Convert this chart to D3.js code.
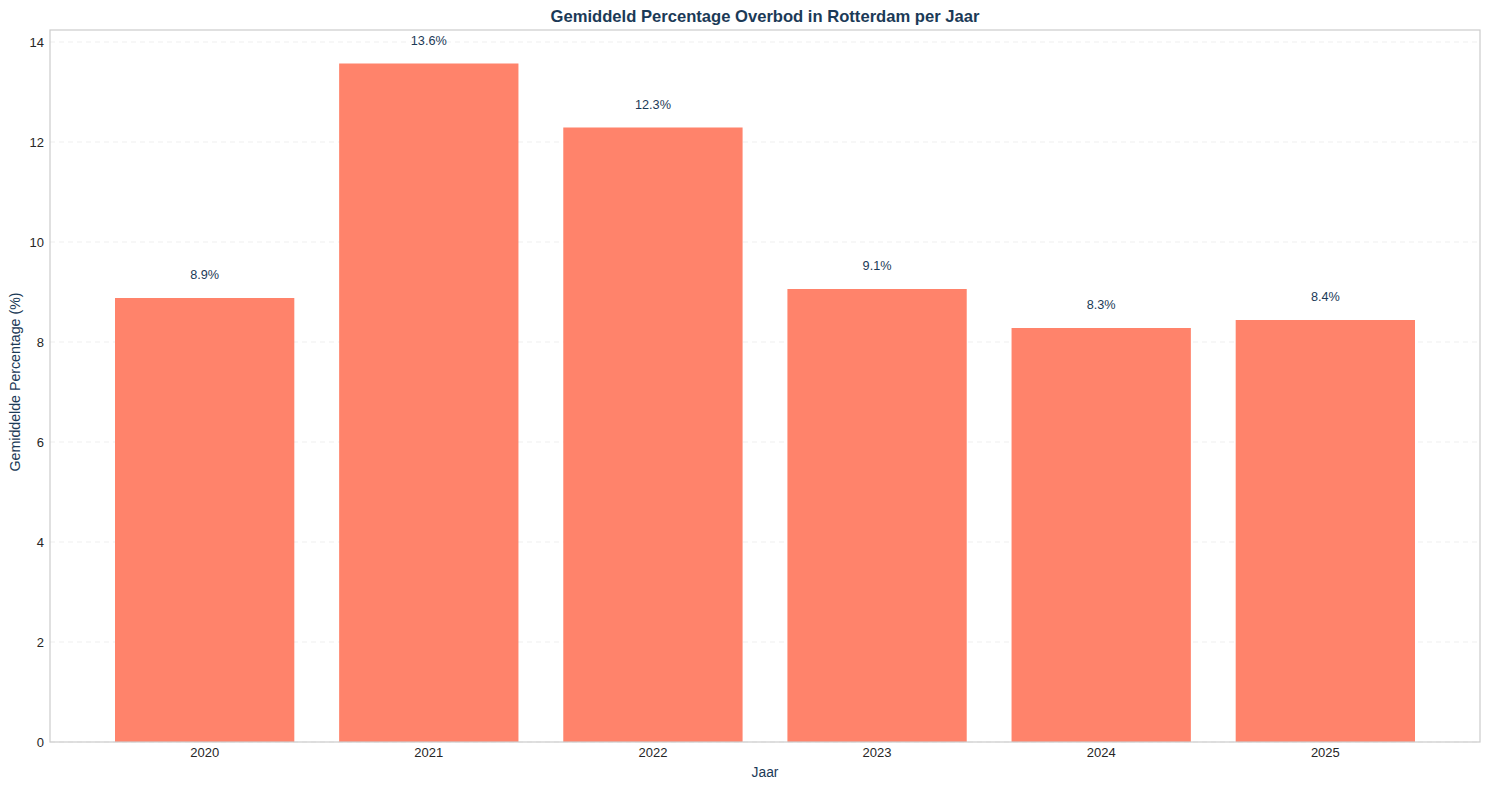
<!DOCTYPE html>
<html><head><meta charset="utf-8">
<script src="https://cdn.jsdelivr.net/npm/d3@7"></script>
<style>body{margin:0;background:#fff;}svg{font-family:"Liberation Sans",Arial,sans-serif;}</style>
</head><body><svg id="c" width="1489" height="790"></svg>
<script>
const years = ["2020","2021","2022","2023","2024","2025"];
const values = [8.88, 13.57, 12.29, 9.06, 8.28, 8.44];
const yTicks = [0,2,4,6,8,10,12,14];

const svg = d3.select("#c");
const L = 50, R = 1480, T = 30, B = 742;
const x = d3.scaleLinear().domain([-0.69, 5.69]).range([L, R]);
const y = d3.scaleLinear().domain([0, 14.24]).range([B, T]);
const bw = x(0.4) - x(-0.4);
const navy = "#1b3a57";

// grid
svg.append("g").selectAll("line").data(yTicks).join("line")
  .attr("x1", L).attr("x2", R).attr("y1", d => y(d)).attr("y2", d => y(d))
  .attr("stroke", "#ebebeb").attr("stroke-dasharray", "5,4").attr("stroke-width", 0.8);

// bars
svg.append("g").selectAll("rect").data(values).join("rect")
  .attr("x", (d, i) => x(i) - bw / 2).attr("width", bw)
  .attr("y", d => y(d)).attr("height", d => y(0) - y(d))
  .attr("fill", "#ff7f66").attr("fill-opacity", 0.97);

// value labels
svg.append("g").selectAll("text").data(values).join("text")
  .attr("x", (d, i) => x(i)).attr("y", d => y(d + 0.3) - 4)
  .attr("text-anchor", "middle").attr("font-size", 12.7).attr("fill", navy)
  .text(d => d.toFixed(1) + "%");

// frame
svg.append("rect").attr("x", L).attr("y", T).attr("width", R - L).attr("height", B - T)
  .attr("fill", "none").attr("stroke", "#cccccc").attr("stroke-width", 1.2);

// y ticks
svg.append("g").selectAll("text").data(yTicks).join("text")
  .attr("x", L - 6).attr("y", d => y(d)).attr("dy", "0.35em")
  .attr("text-anchor", "end").attr("font-size", 13).attr("fill", "#262626")
  .text(d => d);

// x ticks
svg.append("g").selectAll("text").data(years).join("text")
  .attr("x", (d, i) => x(i)).attr("y", B + 14.5)
  .attr("text-anchor", "middle").attr("font-size", 13).attr("fill", "#262626")
  .text(d => d);

// title & axis labels
svg.append("text").attr("x", (L + R) / 2).attr("y", 22).attr("text-anchor", "middle")
  .attr("font-size", 16.6).attr("font-weight", "bold").attr("fill", navy)
  .text("Gemiddeld Percentage Overbod in Rotterdam per Jaar");
svg.append("text").attr("x", (L + R) / 2).attr("y", 777).attr("text-anchor", "middle")
  .attr("font-size", 13.8).attr("fill", navy).text("Jaar");
svg.append("text").attr("transform", `translate(20,${(T + B) / 2 - 4}) rotate(-90)`)
  .attr("text-anchor", "middle").attr("font-size", 14.2).attr("fill", navy)
  .text("Gemiddelde Percentage (%)");
</script></body></html>
